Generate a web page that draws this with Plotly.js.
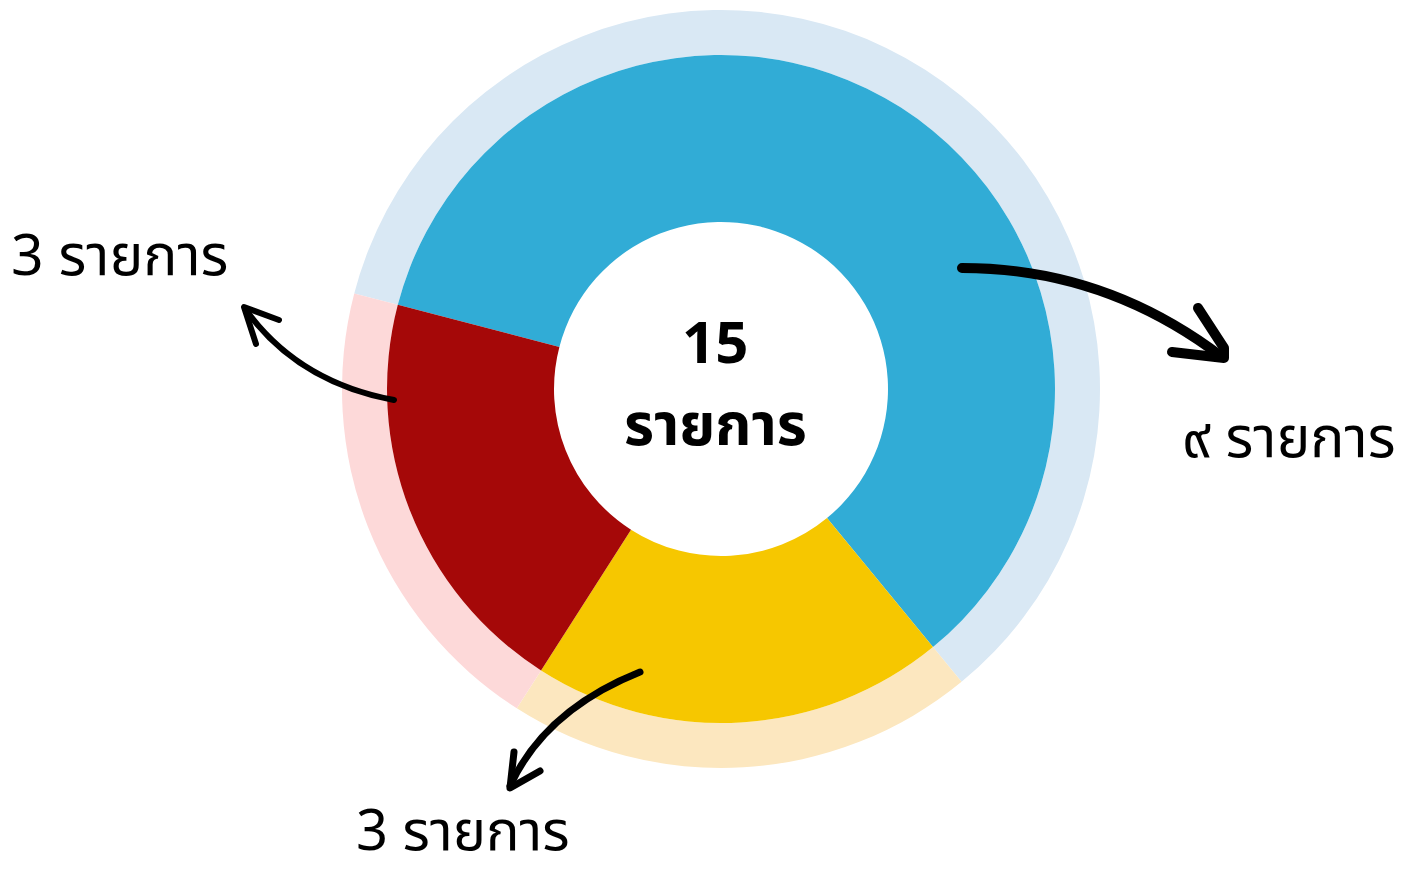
<!DOCTYPE html>
<html>
<head>
<meta charset="utf-8">
<script src="https://cdn.plot.ly/plotly-3.0.1.min.js"></script>
<style>
html,body{margin:0;padding:0;background:#fff;}
#chart{width:1418px;height:877px;}
.shapelayer path{stroke-linecap:round;stroke-linejoin:round;}
</style>
</head>
<body>
<div id="chart"></div>
<script>
// ---- data ----
const categories = ['กลุ่มที่ 1', 'กลุ่มที่ 2', 'กลุ่มที่ 3'];
const values = [9, 3, 3];
const innerColors = ['#31acd6', '#f6c700', '#a50808'];
const outerColors = ['#d9e8f4', '#fce7bf', '#fdd9d9'];
const sliceLabels = ['๙ รายการ', '3 รายการ', '3 รายการ'];
const totalLabel = ['15', 'รายการ'];

// ---- layout helpers (pixel -> paper) ----
const W = 1418, H = 877;
const px = x => x / W;
const py = y => 1 - y / H;
const FONT = '"Noto Sans Thai", "Noto Sans", "Noto Sans CJK SC", sans-serif';

const cx = 721, cy = 389, rOuter = 379, rInner = 334, rHole = 167;

const outer = {
  type: 'pie', labels: categories, values: values, sort: false,
  direction: 'clockwise', rotation: -75.4, hole: rInner / rOuter,
  marker: {colors: outerColors, line: {width: 0}},
  textinfo: 'none', hoverinfo: 'label+value', showlegend: false,
  domain: {x: [px(cx - rOuter), px(cx + rOuter)], y: [py(cy + rOuter), py(cy - rOuter)]}
};
const inner = {
  type: 'pie', labels: categories, values: values, sort: false,
  direction: 'clockwise', rotation: -75.4, hole: rHole / rInner,
  marker: {colors: innerColors, line: {width: 0}},
  textinfo: 'none', hoverinfo: 'label+value', showlegend: false,
  domain: {x: [px(cx - rInner), px(cx + rInner)], y: [py(cy + rInner), py(cy - rInner)]}
};

function pathStr(pts) {
  let s = 'M ' + px(pts[0][0]) + ',' + py(pts[0][1]);
  for (let i = 1; i < pts.length; i += 2) {
    s += ' Q ' + px(pts[i][0]) + ',' + py(pts[i][1]) + ' ' + px(pts[i+1][0]) + ',' + py(pts[i+1][1]);
  }
  return s;
}
function polyStr(pts) {
  return 'M ' + pts.map(p => px(p[0]) + ',' + py(p[1])).join(' L ');
}
function line(path, w) {
  return {type: 'path', xref: 'paper', yref: 'paper', path: path,
          line: {color: '#000', width: w}, layer: 'above'};
}

const shapes = [
  // top-left arrow
  line(pathStr([[394, 400], [298, 382], [246, 310]]), 6),
  line(polyStr([[279, 320], [244, 307], [256, 344]]), 6),
  // right arrow
  line(pathStr([[962, 268], [1105, 268], [1222, 357]]), 10),
  line(polyStr([[1198, 308], [1224, 348], [1224, 358], [1172, 352]]), 10),
  // bottom arrow
  line(pathStr([[640, 672], [545, 710], [510, 786]]), 7),
  line(polyStr([[514, 752], [510, 788], [540, 771]]), 7)
];

const annotations = [
  {x: px(cx - 6), y: py(345), text: '<b>' + totalLabel[0] + '</b>', font: {size: 58, color: '#000', family: FONT}},
  {x: px(cx - 6), y: py(427), text: '<b>' + totalLabel[1] + '</b>', font: {size: 58, color: '#000', family: FONT}},
  {x: px(1289), y: py(440), text: sliceLabels[0], font: {size: 57, color: '#000', family: FONT}},
  {x: px(463), y: 0, yanchor: 'bottom', text: sliceLabels[1], font: {size: 56, color: '#000', family: FONT}},
  {x: px(120), y: py(258), text: sliceLabels[2], font: {size: 57, color: '#000', family: FONT}}
].map(a => Object.assign({xref: 'paper', yref: 'paper', showarrow: false, xanchor: 'center', yanchor: 'middle'}, a));

const layout = {
  width: W, height: H, margin: {l: 0, r: 0, t: 0, b: 0},
  paper_bgcolor: '#fff', plot_bgcolor: '#fff', showlegend: false,
  shapes: shapes, annotations: annotations, font: {family: FONT}
};

Plotly.newPlot('chart', [outer, inner], layout, {displayModeBar: false, staticPlot: true});
</script>
</body>
</html>
